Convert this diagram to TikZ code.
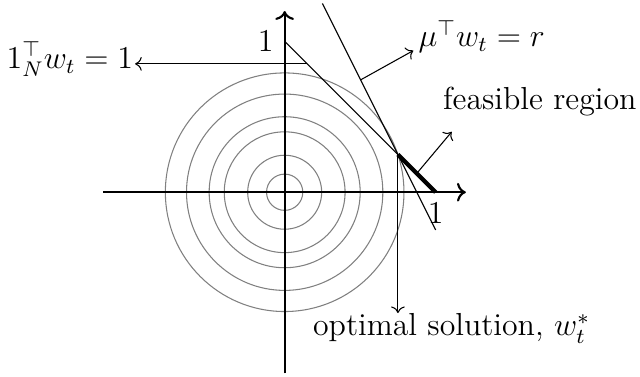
\documentclass[tikz,border=0pt,12pt]{standalone}
\usepackage{amsmath, amssymb}
\usepackage{tikz}
\usetikzlibrary{arrows.meta,positioning}

\begin{document}
\begin{tikzpicture}[
    x=2cm, y=2cm,
    axisline/.style={->, thick},
    level/.style={gray, thin},
    tag/.style={inner sep=0pt}
]
\useasboundingbox (-1.885,-1.217) rectangle (2.353,1.273);
\foreach \r in {0.12,0.245,0.4,0.5,0.65,0.79}
    \draw[level] (0,0) circle (\r);

\coordinate (xl) at (-1.2,0);
\coordinate (xr) at (1.2,0);
\coordinate (yb) at (0,-1.2);
\coordinate (yt) at (0,1.2);
\coordinate (ex) at (1,0);
\coordinate (ey) at (0,1);
\coordinate (opt) at (0.75,0.25);
\coordinate (mutop) at (0.25,1.25);
\coordinate (mubot) at (1,-0.25);

\draw (ey) -- (ex);
\draw (mutop) -- (mubot);
\draw[line width=1.6pt] (opt) -- (ex);
\draw[axisline] (xl) -- (xr);
\draw[axisline] (yb) -- (yt);
\node[left] (oney) at (ey) {$1$};
\node[below] (onex) at (ex) {$1$};

\coordinate (sumfoot) at (0.15,0.85);
\coordinate (sumtip) at (-0.99,0.85);
\node[tag, anchor=base east] (sumlabel) at (-1.0,0.82) {$1_N^\top w_t = 1$};
\draw[->] (sumfoot) -- (sumtip);

\coordinate (mufoot) at (0.503,0.744);
\coordinate (mutip) at (0.852,0.938);
\node[tag, anchor=base west] (mulabel) at (0.883,0.964) {$\mu^\top w_t = r$};
\draw[->] (mufoot) -- (mutip);

\coordinate (feasfoot) at (0.875,0.125);
\coordinate (feastip) at (1.106,0.40);
\node[tag, anchor=base west] (feaslabel) at (1.046,0.545) {feasible region};
\draw[->] (feasfoot) -- (feastip);

\coordinate (opttip) at (0.75,-0.8);
\node[tag, anchor=base west] (optlabel) at (0.185,-0.95) {optimal solution, $w_t^*$};
\draw[->] (opt) -- (opttip);
\end{tikzpicture}
\end{document}
